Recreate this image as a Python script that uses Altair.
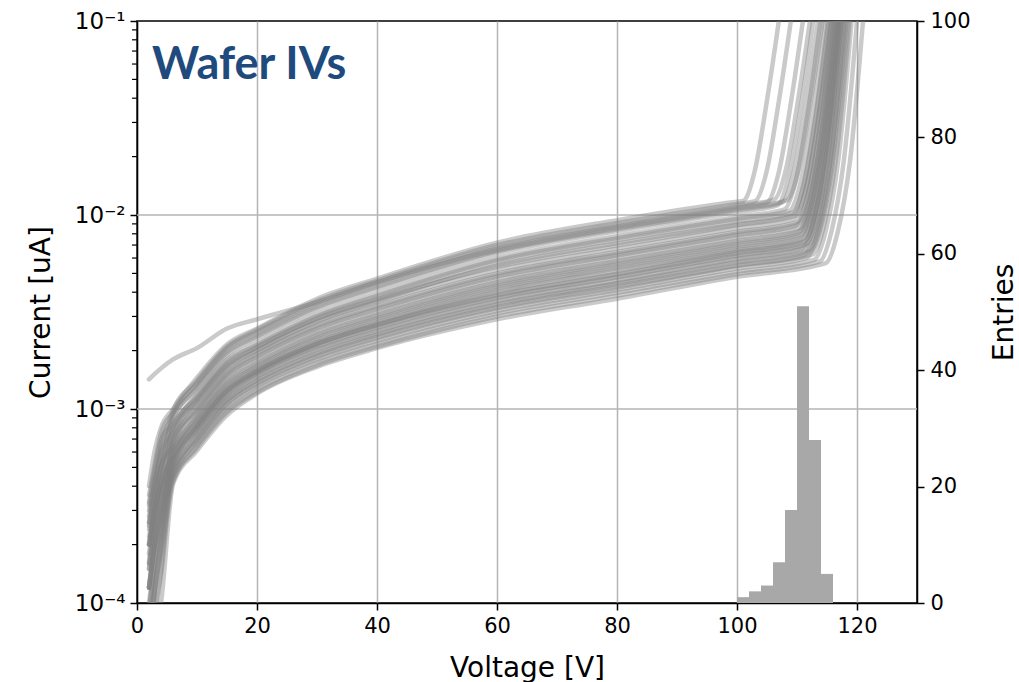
import altair as alt
import pandas as pd

# ---------------- data ----------------
# voltage grid of the pre-breakdown part of every IV curve [V]
V_GRID = [2, 3, 4, 6, 10, 15, 20, 30, 40, 60, 80, 100]

# currents at V_GRID, in units of 1e-3 uA
CURRENT_E3 = [
    [0.04, 0.07, 0.10, 0.41, 0.61, 0.93, 1.20, 1.65, 2.06, 2.90, 3.70, 4.80],
    [0.07, 0.12, 0.18, 0.42, 0.63, 0.96, 1.22, 1.68, 2.10, 3.00, 3.84, 4.95],
    [0.12, 0.20, 0.28, 0.43, 0.65, 0.99, 1.26, 1.74, 2.17, 3.10, 3.97, 5.10],
    [0.06, 0.09, 0.14, 0.45, 0.67, 1.02, 1.30, 1.79, 2.24, 3.20, 4.10, 5.30],
    [0.15, 0.24, 0.33, 0.46, 0.69, 1.06, 1.34, 1.85, 2.31, 3.30, 4.22, 5.45],
    [0.09, 0.16, 0.23, 0.47, 0.70, 1.07, 1.36, 1.88, 2.35, 3.35, 4.30, 5.50],
    [0.06, 0.12, 0.19, 0.48, 0.72, 1.10, 1.40, 1.93, 2.42, 3.45, 4.42, 5.70],
    [0.20, 0.30, 0.39, 0.49, 0.74, 1.12, 1.42, 1.96, 2.45, 3.50, 4.48, 5.78],
    [0.12, 0.20, 0.29, 0.50, 0.76, 1.15, 1.46, 2.02, 2.52, 3.60, 4.60, 5.94],
    [0.05, 0.09, 0.15, 0.52, 0.78, 1.18, 1.50, 2.07, 2.59, 3.70, 4.74, 6.10],
    [0.16, 0.26, 0.36, 0.53, 0.79, 1.20, 1.52, 2.10, 2.63, 3.75, 4.80, 6.19],
    [0.10, 0.17, 0.25, 0.54, 0.81, 1.23, 1.56, 2.16, 2.70, 3.85, 4.93, 6.35],
    [0.20, 0.30, 0.41, 0.55, 0.82, 1.25, 1.58, 2.18, 2.73, 3.90, 4.99, 6.44],
    [0.12, 0.20, 0.30, 0.56, 0.82, 1.24, 1.54, 2.16, 2.72, 4.00, 5.16, 6.56],
    [0.07, 0.13, 0.21, 0.57, 0.84, 1.27, 1.58, 2.21, 2.79, 4.10, 5.29, 6.72],
    [0.22, 0.32, 0.42, 0.59, 0.86, 1.30, 1.62, 2.27, 2.86, 4.20, 5.42, 6.89],
    [0.15, 0.25, 0.37, 0.60, 0.88, 1.33, 1.66, 2.32, 2.92, 4.30, 5.55, 7.05],
    [0.09, 0.17, 0.26, 0.62, 0.90, 1.36, 1.69, 2.38, 2.99, 4.40, 5.68, 7.22],
    [0.26, 0.38, 0.52, 0.63, 0.92, 1.40, 1.73, 2.43, 3.06, 4.50, 5.80, 7.38],
    [0.12, 0.21, 0.33, 0.65, 0.95, 1.44, 1.79, 2.51, 3.16, 4.65, 6.00, 7.63],
    [0.20, 0.30, 0.43, 0.67, 0.98, 1.49, 1.85, 2.59, 3.26, 4.80, 6.19, 7.87],
    [0.06, 0.12, 0.22, 0.69, 1.00, 1.52, 1.89, 2.65, 3.33, 4.90, 6.32, 8.04],
    [0.25, 0.37, 0.50, 0.70, 1.03, 1.55, 1.93, 2.70, 3.40, 5.00, 6.45, 8.20],
    [0.18, 0.29, 0.42, 0.73, 1.07, 1.61, 2.00, 2.81, 3.54, 5.20, 6.71, 8.53],
    [0.30, 0.44, 0.59, 0.76, 1.11, 1.67, 2.08, 2.92, 3.67, 5.40, 6.97, 8.86],
    [0.24, 0.36, 0.50, 0.77, 1.10, 1.65, 2.01, 2.83, 3.60, 5.50, 7.15, 8.97],
    [0.12, 0.22, 0.34, 0.80, 1.14, 1.71, 2.08, 2.94, 3.73, 5.70, 7.41, 9.29],
    [0.28, 0.42, 0.59, 0.82, 1.17, 1.76, 2.14, 3.01, 3.83, 5.85, 7.60, 9.54],
    [0.33, 0.50, 0.69, 0.84, 1.20, 1.80, 2.19, 3.09, 3.93, 6.00, 7.80, 9.78],
    [1.42, 1.52, 1.62, 1.80, 2.06, 2.60, 2.90, 3.55, 4.50, 6.60, 8.60, 10.80],
    [0.20, 0.33, 0.51, 0.89, 1.27, 1.90, 2.32, 3.27, 4.16, 6.35, 8.26, 10.35],
    [0.32, 0.47, 0.68, 0.91, 1.30, 1.95, 2.37, 3.35, 4.26, 6.50, 8.45, 10.60],
    [0.16, 0.30, 0.47, 0.94, 1.34, 2.01, 2.45, 3.45, 4.39, 6.70, 8.71, 10.92],
    [0.36, 0.53, 0.75, 0.96, 1.37, 2.06, 2.50, 3.53, 4.49, 6.85, 8.90, 11.17],
    [0.26, 0.42, 0.63, 0.98, 1.40, 2.10, 2.56, 3.61, 4.59, 7.00, 9.10, 11.41],
    [0.40, 0.62, 0.80, 1.00, 1.45, 2.15, 2.60, 3.70, 4.70, 7.20, 9.40, 11.70],
]

# breakdown tail of each curve: voltages [V] and currents [1e-3 uA]
TAIL_V = [
    [114.8, 116.8, 118.8, 121.3], [113.8, 115.8, 117.8, 120.3],
    [112.9, 114.9, 116.9, 119.4], [111.7, 113.7, 115.7, 118.2],
    [112.6, 114.6, 116.6, 119.1], [111.2, 113.2, 115.2, 117.7],
    [112.3, 114.3, 116.3, 118.8], [112.1, 114.1, 116.1, 118.6],
    [110.9, 112.9, 114.9, 117.4], [111.9, 113.9, 115.9, 118.4],
    [111.5, 113.5, 115.5, 118.0], [111.1, 113.1, 115.1, 117.6],
    [111.3, 113.3, 115.3, 117.8], [110.7, 112.7, 114.7, 117.2],
    [111.0, 113.0, 115.0, 117.5], [110.4, 112.4, 114.4, 116.9],
    [110.8, 112.8, 114.8, 117.3], [110.1, 112.1, 114.1, 116.6],
    [110.6, 112.6, 114.6, 117.1], [110.5, 112.5, 114.5, 117.0],
    [109.8, 111.8, 113.8, 116.3], [110.3, 112.3, 114.3, 116.8],
    [110.0, 112.0, 114.0, 116.5], [109.5, 111.5, 113.5, 116.0],
    [109.7, 111.7, 113.7, 116.2], [109.1, 111.1, 113.1, 115.6],
    [109.3, 111.3, 113.3, 115.8], [108.7, 110.7, 112.7, 115.2],
    [107.9, 109.9, 111.9, 114.4], [108.3, 110.3, 112.3, 114.8],
    [106.7, 108.7, 110.7, 113.2], [107.5, 109.5, 111.5, 114.0],
    [105.0, 107.0, 109.0, 111.5], [106.2, 108.2, 110.2, 112.7],
    [103.0, 105.0, 107.0, 109.5], [101.0, 103.0, 105.0, 107.5],
]
TAIL_I_E3 = [
    [5.65, 8.20, 18.6, 130], [5.77, 8.37, 19.0, 130],
    [5.89, 8.54, 19.4, 130], [6.04, 8.76, 19.9, 130],
    [6.27, 9.10, 20.7, 130], [6.24, 9.04, 20.6, 130],
    [6.54, 9.49, 21.6, 130], [6.62, 9.60, 21.8, 130],
    [6.72, 9.74, 22.2, 130], [6.97, 10.1, 23.0, 130],
    [7.04, 10.2, 23.2, 130], [7.20, 10.4, 23.7, 130],
    [7.31, 10.6, 24.1, 130], [7.40, 10.7, 24.4, 130],
    [7.61, 11.0, 25.1, 130], [7.75, 11.2, 25.6, 130],
    [7.97, 11.6, 26.3, 130], [8.09, 11.7, 26.7, 130],
    [8.32, 12.1, 27.5, 130], [8.59, 12.5, 28.3, 130],
    [8.80, 12.8, 29.0, 130], [9.04, 13.1, 29.8, 130],
    [9.18, 13.3, 30.3, 130], [9.50, 13.8, 31.4, 130],
    [9.89, 14.3, 32.6, 130], [9.95, 14.4, 32.8, 130],
    [10.3, 14.9, 34.0, 130], [10.5, 15.2, 34.8, 130],
    [10.7, 15.5, 35.3, 130], [11.9, 17.2, 39.2, 130],
    [11.2, 16.2, 36.9, 130], [11.6, 16.8, 38.2, 130],
    [11.6, 16.8, 38.2, 130], [12.0, 17.4, 39.6, 130],
    [11.8, 17.1, 39.0, 130], [11.8, 17.1, 39.0, 130],
]

# breakdown-voltage histogram (right axis)
BIN_LO = [100, 102, 104, 106, 108, 110, 112, 114]
BIN_HI = [102, 104, 106, 108, 110, 112, 114, 116]
COUNTS = [1, 2, 3, 7, 16, 51, 28, 5]

X_TICKS = [0, 20, 40, 60, 80, 100, 120]
Y_TICKS = [1e-4, 1e-3, 1e-2, 1e-1]
Y_LABELS = ["10⁻⁴", "10⁻³", "10⁻²", "10⁻¹"]
Y_GRID = [1e-3, 1e-2]
Y_MINOR = [0.0002, 0.0003, 0.0004, 0.0005, 0.0006, 0.0007, 0.0008, 0.0009,
           0.002, 0.003, 0.004, 0.005, 0.006, 0.007, 0.008, 0.009,
           0.02, 0.03, 0.04, 0.05, 0.06, 0.07, 0.08, 0.09]
ENTRY_TICKS = [0, 20, 40, 60, 80, 100]
TITLE_TEXT = "Wafer IVs"

# ---------------- tables ----------------
rows = []
for cid, (cur, tv, ti) in enumerate(zip(CURRENT_E3, TAIL_V, TAIL_I_E3)):
    vs = V_GRID + tv
    cs = cur + ti
    for k, (v, c) in enumerate(zip(vs, cs)):
        rows.append({"curve": cid, "k": k, "V": v, "I": c * 1e-3})
iv = pd.DataFrame(rows)
hist = pd.DataFrame({"lo": BIN_LO, "hi": BIN_HI, "n": COUNTS, "base": [0] * len(COUNTS)})
decades = pd.DataFrame({"d": Y_GRID})
minor = pd.DataFrame({"m": Y_MINOR})

label_expr = " : ".join(
    f"abs(log(datum.value) - log({v})) < 0.05 ? '{s}'" for v, s in zip(Y_TICKS, Y_LABELS)
) + " : ''"

FONT = "DejaVu Sans"
LBL = 21
GRID = "#b4b4b4"
x_scale = alt.Scale(domain=[0, 130], nice=False, zero=False)
y_log = alt.Scale(type="log", domain=[1e-4, 1e-1], nice=False)

x_axis = alt.Axis(values=X_TICKS, title="Voltage [V]", grid=True,
                  labelFlush=False, labelFontSize=LBL, titleX=390, titleY=73,
                  titleBaseline="alphabetic", labelPadding=5)
y_axis = alt.Axis(values=Y_TICKS, labelExpr=label_expr, tickSize=7, ticks=True,
                  domain=True, title="Current [uA]", grid=False, labelFlush=False,
                  labelOverlap=False, titleX=-88, titleY=291, titleAngle=270,
                  titleBaseline="alphabetic", titleAlign="center",
                  labelPadding=5, labelFontSize=23)

# horizontal grid lines on the inner decades (drawn under the curves)
ygrid = alt.Chart(decades).mark_rule(color=GRID, strokeWidth=1.5).encode(
    y=alt.Y("d:Q", scale=y_log, axis=y_axis),
)

lines = alt.Chart(iv).mark_line(
    color="#808080", opacity=0.42, strokeWidth=4.5, clip=True,
    strokeJoin="round", strokeCap="round", interpolate="monotone"
).encode(
    x=alt.X("V:Q", scale=x_scale, axis=x_axis),
    y=alt.Y("I:Q", scale=y_log, axis=y_axis),
    detail="curve:N",
    order="k:Q",
)

# minor log ticks, drawn just left of the axis line
minor_ticks = alt.Chart(minor).mark_tick(
    color="black", thickness=1.2, size=5, orient="horizontal", clip=False, opacity=1
).encode(
    x=alt.value(-2.5),
    y=alt.Y("m:Q", scale=y_log, axis=y_axis),
)

label = alt.Chart(pd.DataFrame({"t": [TITLE_TEXT]})).mark_text(
    align="left", baseline="alphabetic", font="Lato", fontWeight="bold",
    fontSize=45, color="#1F4A7E"
).encode(x=alt.value(15), y=alt.value(58), text="t:N")

left = alt.layer(ygrid, lines, minor_ticks, label)

bars = alt.Chart(hist).mark_bar(color="#a8a8a8", clip=True).encode(
    x=alt.X("lo:Q", scale=x_scale, axis=x_axis),
    x2="hi:Q",
    y=alt.Y("n:Q", scale=alt.Scale(domain=[0, 100], nice=False),
            axis=alt.Axis(orient="right", values=ENTRY_TICKS, title="Entries", grid=False,
                          labelFlush=False, labelFontSize=LBL, titleX=95, titleY=291,
                          titleAngle=270, titleBaseline="alphabetic", titleAlign="center",
                          labelPadding=6)),
    y2="base:Q",
)

chart = alt.layer(left, bars).resolve_scale(y="independent").properties(
    width=780, height=582,
    autosize=alt.AutoSizeParams(type="none"),
    padding={"left": 137, "top": 21, "right": 102, "bottom": 79},
    background="white",
).configure_view(
    stroke="black", strokeWidth=1.5
).configure_axis(
    labelFont=FONT, labelFontSize=LBL, labelColor="black",
    titleFont=FONT, titleFontSize=28, titleFontWeight="normal", titleColor="black",
    domainColor="black", domainWidth=1.5, tickColor="black", tickWidth=1.5, tickSize=7,
    gridColor=GRID, gridWidth=1.5, labelBound=False,
)

chart.save("out.html", embed_options={"renderer": "svg", "actions": False})
